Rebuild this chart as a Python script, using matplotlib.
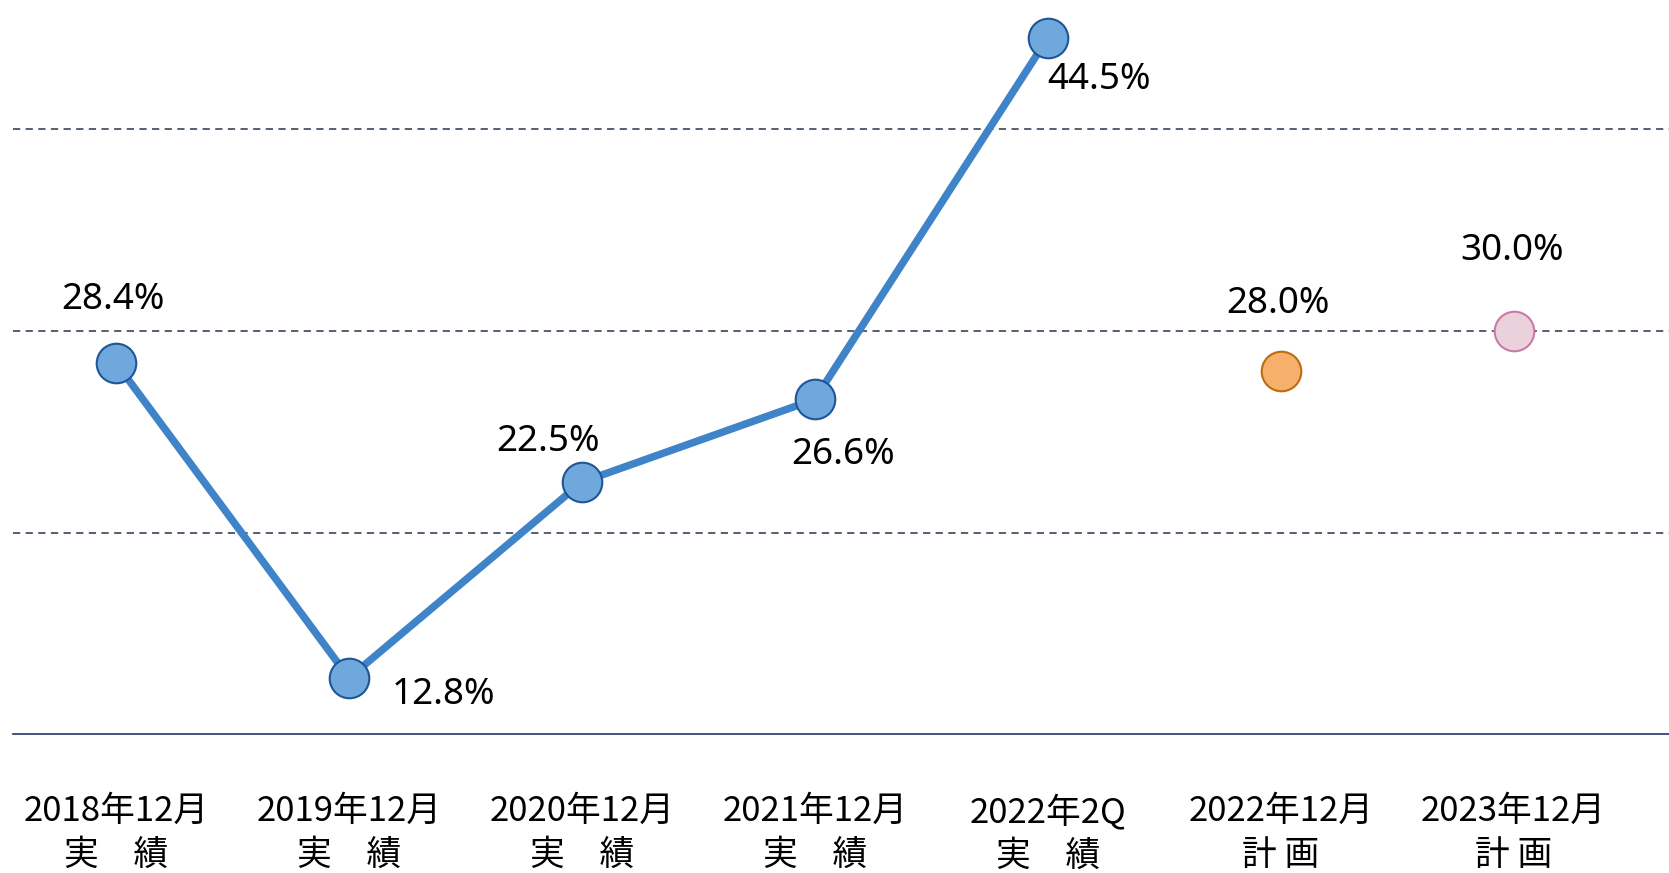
import matplotlib.pyplot as plt

plt.rcParams['font.family'] = ['Noto Sans CJK JP', 'DejaVu Sans']

# Data
periods = ['2018年12月\n実　績', '2019年12月\n実　績', '2020年12月\n実　績',
           '2021年12月\n実　績', '2022年2Q\n実　績', '2022年12月\n計 画', '2023年12月\n計 画']
actual = [28.4, 12.8, 22.5, 26.6, 44.5]
plan_2022 = 28.0
plan_2023 = 30.0
grid_levels = [20, 30, 40]

# label offsets (pixels) relative to each point
label_offsets = [(-3, 63), (94, -17), (-34, 40), (28, -56), (51, -42), (-3, 67), (-2, 80)]

fig = plt.figure(figsize=(16.69, 8.73), dpi=100)
ax = fig.add_axes([0.0077, 0.1587, 0.9923, 0.8413])

x_act = list(range(len(actual)))
ax.plot(x_act, actual, color='#3F84C8', lw=5.4, zorder=2, solid_capstyle='round')
ax.plot(x_act, actual, ls='none', marker='o', ms=28.5, mfc='#6FA8DC', mec='#1F5597', mew=1.5, zorder=3)
ax.plot([5], [plan_2022], ls='none', marker='o', ms=28.5, mfc='#F5B06B', mec='#C06A10', mew=1.5, zorder=3)
ax.plot([6], [plan_2023], ls='none', marker='o', ms=28.5, mfc='#EAD1DC', mec='#C77BA6', mew=1.5, zorder=3)

values = actual + [plan_2022, plan_2023]
for i, v in enumerate(values):
    dx, dy = label_offsets[i]
    ax.annotate(f'{v:.1f}%', (i, v), xytext=(dx, dy), textcoords='offset pixels',
                ha='center', va='center', fontsize=26.5, family=['Noto Sans', 'DejaVu Sans'],
                color='black', zorder=4)

for g in grid_levels:
    ax.axhline(g, color='#44546A', lw=1.3, ls=(0, (4, 3)), zorder=1)

ax.set_xlim(-0.443, 6.667)
ax.set_ylim(10, 46.38)

ax.set_xticks(range(len(periods)))
ax.set_xticklabels(periods, fontsize=25, linespacing=1.32)
ax.tick_params(axis='x', length=0, pad=43)
ax.set_yticks([])

for s in ['top', 'right', 'left']:
    ax.spines[s].set_visible(False)
ax.spines['bottom'].set_color('#1F3864')
ax.spines['bottom'].set_linewidth(1.2)

fig.savefig('out.png', dpi=100)
